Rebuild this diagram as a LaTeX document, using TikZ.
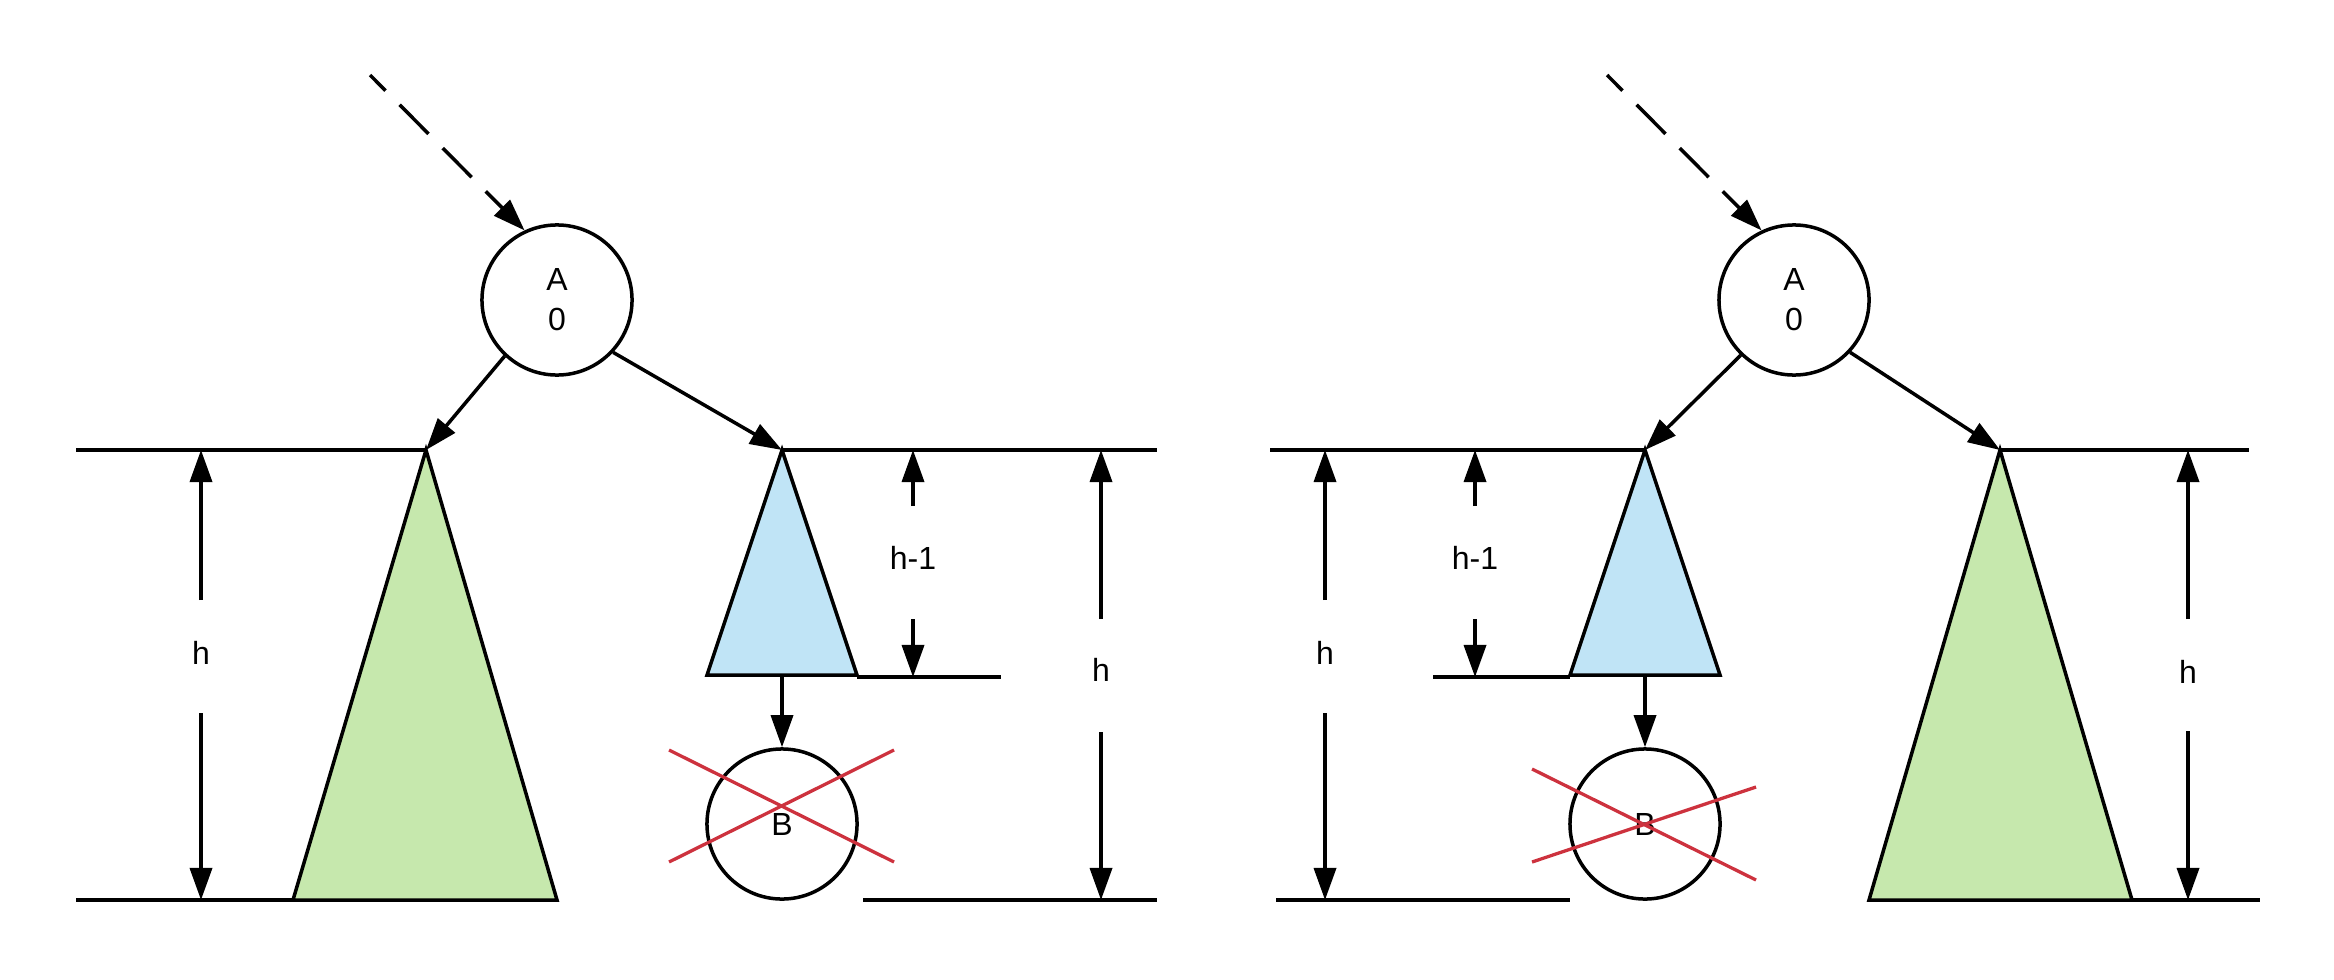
\documentclass[tikz,border=0pt]{standalone}
\usepackage{fontspec}
\setmainfont{Liberation Sans}
\usetikzlibrary{arrows.meta}
\definecolor{treegreen}{RGB}{198,232,173}
\definecolor{treeblue}{RGB}{192,228,246}
\definecolor{crossred}{RGB}{205,50,62}
\begin{document}
\begin{tikzpicture}[x=0.01cm,y=-0.01cm,
  line width=0.035cm,
  arr/.style={-{Triangle[length=0.32cm,width=0.22cm]}},
  dasharr/.style={arr, dash pattern=on 0.41cm off 0.2cm, dash phase=0.19cm},
  nodecirc/.style={circle, draw, line width=0.035cm, minimum size=1.5cm, inner sep=0pt, font=\fontsize{9.1}{11.4}\selectfont, align=center},
  lbl/.style={font=\fontsize{9.1}{11}\selectfont, inner sep=0pt},
  levelline/.style={line width=0.035cm},
  cross/.style={draw=crossred, line width=0.033cm},
  tri/.style={draw, line width=0.035cm}
]
\useasboundingbox (0,0) rectangle (2334,979);

% ================= LEFT PANEL =================
% level lines
\draw[levelline] (76,450) -- (426,450);
\draw[levelline] (76,900) -- (293,900);
\draw[levelline] (781,450) -- (1157,450);
\draw[levelline] (857,677) -- (1001,677);
\draw[levelline] (863,900) -- (1157,900);

% subtrees
\coordinate (gL1) at (426,450);
\coordinate (bL1) at (782,450);
\coordinate (bB1) at (782,675);
\draw[tri, fill=treegreen] (gL1) -- (293,900) -- (557,900) -- cycle;
\draw[tri, fill=treeblue] (bL1) -- (707,675) -- (857,675) -- cycle;

% nodes
\node[nodecirc] (A1) at (557,300) {A\\0};
\node[nodecirc] (B1) at (782,824) {B};

% connectors
\coordinate (s1) at (370,75);
\draw[dasharr] (s1) -- (A1.115);
\draw[arr] (A1.-133) -- (gL1);
\draw[arr] (A1.-43) -- (bL1);
\draw[arr] (bB1) -- (B1);

% cross
\draw[cross] (669,750) -- (894,862);
\draw[cross] (669,862) -- (894,750);

% dimension h (left)
\node[lbl] (lh1) at (201,653) {h};
\coordinate (h1a) at (201,600); \coordinate (h1t) at (201,450);
\coordinate (h1b) at (201,713); \coordinate (h1d) at (201,900);
\draw[arr] (h1a) -- (h1t);
\draw[arr] (h1b) -- (h1d);

% dimension h-1
\node[lbl] (lhm1) at (913,558) {h-1};
\coordinate (m1a) at (913,506); \coordinate (m1t) at (913,450);
\coordinate (m1b) at (913,619); \coordinate (m1d) at (913,677);
\draw[arr] (m1a) -- (m1t);
\draw[arr] (m1b) -- (m1d);

% dimension h (right)
\node[lbl] (lh2) at (1101,670) {h};
\coordinate (h2a) at (1101,619); \coordinate (h2t) at (1101,450);
\coordinate (h2b) at (1101,732); \coordinate (h2d) at (1101,900);
\draw[arr] (h2a) -- (h2t);
\draw[arr] (h2b) -- (h2d);

% ================= RIGHT PANEL =================
\draw[levelline] (1270,450) -- (1645,450);
\draw[levelline] (1433,677) -- (1570,677);
\draw[levelline] (1276,900) -- (1570,900);
\draw[levelline] (2000,450) -- (2249,450);
\draw[levelline] (2132,900) -- (2260,900);

\coordinate (bL2) at (1645,450);
\coordinate (bB2) at (1645,675);
\coordinate (gL2) at (2000,450);
\draw[tri, fill=treeblue] (bL2) -- (1570,675) -- (1720,675) -- cycle;
\draw[tri, fill=treegreen] (gL2) -- (1869,900) -- (2132,900) -- cycle;

\node[nodecirc] (A2) at (1794,300) {A\\0};
\node[nodecirc] (B2) at (1645,824) {B};

\coordinate (s2) at (1607,75);
\draw[dasharr] (s2) -- (A2.115);
\draw[arr] (A2.-134) -- (bL2);
\draw[arr] (A2.-43) -- (gL2);
\draw[arr] (bB2) -- (B2);

\draw[cross] (1532,769) -- (1756,880);
\draw[cross] (1532,862) -- (1756,787);

\node[lbl] (lh3) at (1325,653) {h};
\coordinate (h3a) at (1325,600); \coordinate (h3t) at (1325,450);
\coordinate (h3b) at (1325,713); \coordinate (h3d) at (1325,900);
\draw[arr] (h3a) -- (h3t);
\draw[arr] (h3b) -- (h3d);

\node[lbl] (lhm2) at (1475,558) {h-1};
\coordinate (m2a) at (1475,506); \coordinate (m2t) at (1475,450);
\coordinate (m2b) at (1475,619); \coordinate (m2d) at (1475,677);
\draw[arr] (m2a) -- (m2t);
\draw[arr] (m2b) -- (m2d);

\node[lbl] (lh4) at (2188,672) {h};
\coordinate (h4a) at (2188,619); \coordinate (h4t) at (2188,450);
\coordinate (h4b) at (2188,731); \coordinate (h4d) at (2188,900);
\draw[arr] (h4a) -- (h4t);
\draw[arr] (h4b) -- (h4d);
\end{tikzpicture}
\end{document}
